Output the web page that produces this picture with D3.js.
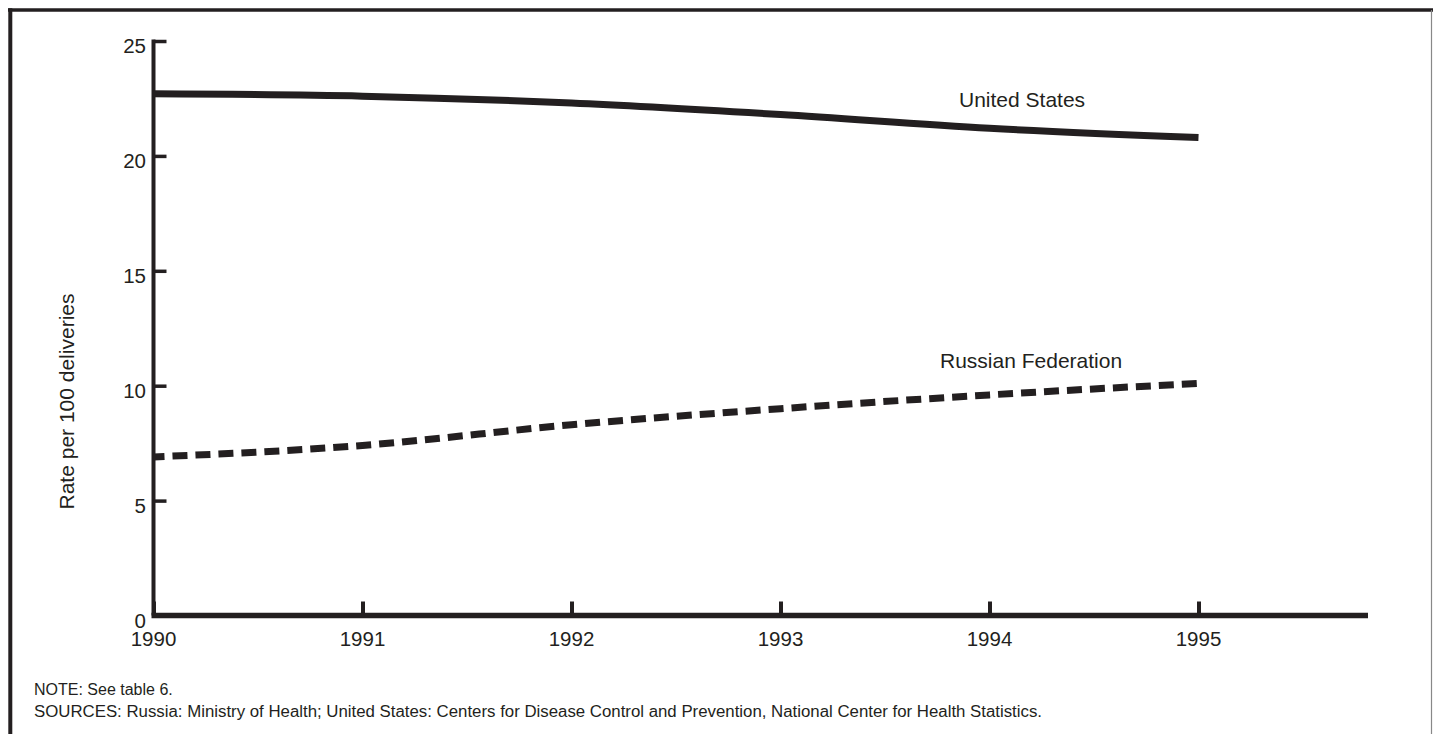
<!DOCTYPE html>
<html>
<head>
<meta charset="utf-8">
<script src="https://cdn.jsdelivr.net/npm/d3@7"></script>
<style>
  html, body { margin: 0; padding: 0; background: #fff; }
  svg { display: block; font-family: "Liberation Sans", Arial, Helvetica, sans-serif; }
</style>
</head>
<body>
<svg id="chart" width="1433" height="734"></svg>
<script>
const years = [1990, 1991, 1992, 1993, 1994, 1995];
const unitedStates = [22.7, 22.6, 22.3, 21.8, 21.2, 20.8];
const russianFederation = [6.9, 7.4, 8.3, 9.0, 9.6, 10.1];
const yTicks = [0, 5, 10, 15, 20, 25];
const seriesNames = ["United States", "Russian Federation"];
const yTitle = "Rate per 100 deliveries";
const noteText = "NOTE: See table 6.";
const sourceText = "SOURCES: Russia: Ministry of Health; United States: Centers for Disease Control and Prevention, National Center for Health Statistics.";

const ink = "#231f20";
const svg = d3.select("#chart");

// frame
svg.append("line").attr("x1", 8).attr("x2", 1433).attr("y1", 10).attr("y2", 10)
  .attr("stroke", ink).attr("stroke-width", 3.5);
svg.append("line").attr("x1", 10.3).attr("x2", 10.3).attr("y1", 8.3).attr("y2", 734)
  .attr("stroke", ink).attr("stroke-width", 4);
svg.append("line").attr("x1", 1431.5).attr("x2", 1431.5).attr("y1", 10).attr("y2", 734)
  .attr("stroke", "#888").attr("stroke-width", 1.2);

const x = d3.scaleLinear().domain([1990, 1995]).range([153.5, 1198.5]);
const y = d3.scaleLinear().domain([0, 25]).range([615.5, 41]);

// y axis
const yAxis = svg.append("g").attr("transform", "translate(153.5,0)")
  .call(d3.axisRight(y).tickValues(yTicks).tickSize(13).tickFormat(""));
yAxis.select(".domain").remove();
yAxis.selectAll(".tick line").attr("stroke", ink).attr("stroke-width", 3.5);
svg.append("line").attr("x1", 153.5).attr("x2", 153.5).attr("y1", y(25) - 1.5).attr("y2", y(0))
  .attr("stroke", ink).attr("stroke-width", 4);
svg.append("g").selectAll("text").data(yTicks).join("text")
  .attr("x", 146).attr("y", d => y(d) + 12)
  .attr("text-anchor", "end").attr("font-size", 20.5).attr("fill", ink)
  .text(d => d);

// x axis
const xAxis = svg.append("g").attr("transform", `translate(0,${y(0)})`)
  .call(d3.axisTop(x).tickValues(years).tickSize(14).tickFormat(""));
xAxis.select(".domain").remove();
xAxis.selectAll(".tick line").attr("stroke", ink).attr("stroke-width", 4);
svg.append("line").attr("x1", 151.5).attr("x2", 1368).attr("y1", y(0)).attr("y2", y(0))
  .attr("stroke", ink).attr("stroke-width", 5.5);
svg.append("g").selectAll("text").data(years).join("text")
  .attr("x", d => x(d)).attr("y", 645.5)
  .attr("text-anchor", "middle").attr("font-size", 20.5).attr("fill", ink)
  .text(d => d);

// y title
svg.append("text").attr("transform", "translate(74,401.5) rotate(-90)")
  .attr("text-anchor", "middle").attr("font-size", 21).attr("fill", ink)
  .text(yTitle);

// lines
const line = d3.line().x((d, i) => x(years[i])).y(d => y(d)).curve(d3.curveMonotoneX);
svg.append("path").datum(unitedStates).attr("d", line)
  .attr("fill", "none").attr("stroke", ink).attr("stroke-width", 7);
svg.append("path").datum(russianFederation).attr("d", line)
  .attr("fill", "none").attr("stroke", ink).attr("stroke-width", 7)
  .attr("stroke-dasharray", "15,8").attr("stroke-dashoffset", 4);

// series labels
svg.append("text").attr("x", 959).attr("y", 106.5).attr("font-size", 21).attr("fill", ink)
  .text(seriesNames[0]);
svg.append("text").attr("x", 940).attr("y", 367.5).attr("font-size", 21).attr("fill", ink)
  .text(seriesNames[1]);

// notes
svg.append("text").attr("x", 34).attr("y", 695).attr("font-size", 16).attr("fill", ink).text(noteText);
svg.append("text").attr("x", 34).attr("y", 717).attr("font-size", 16).attr("fill", ink)
  .attr("textLength", 1008).attr("lengthAdjust", "spacingAndGlyphs").text(sourceText);
</script>
</body>
</html>
